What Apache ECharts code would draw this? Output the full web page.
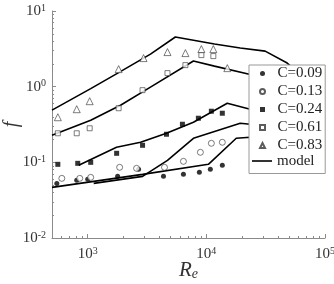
<!DOCTYPE html>
<html>
<head>
<meta charset="utf-8">
<script src="https://cdn.jsdelivr.net/npm/echarts@6/dist/echarts.min.js"></script>
<style>
html,body{margin:0;padding:0;background:#fff;}
#test{width:334px;height:284px;}
</style>
</head>
<body>
<div id="test"></div>
<script>
// measured points, Re on x, f on y
var re09 = [549, 808, 1000, 1787, 2683, 4352, 6408, 8730, 10800, 13630];
var f09 = [0.0527, 0.0578, 0.0596, 0.0653, 0.0808, 0.0653, 0.0694, 0.0737, 0.0808, 0.0912];
var re13 = [605, 857, 1060, 1858, 2581, 4436, 6408, 8904, 11020, 13630];
var f13 = [0.0614, 0.0614, 0.0633, 0.0859, 0.0833, 0.0859, 0.1031, 0.1357, 0.1785, 0.184];
var re24 = [560, 824, 1060, 1753, 2899, 4612, 6285, 8566, 11020, 13630];
var f24 = [0.0941, 0.097, 0.1, 0.1316, 0.168, 0.235, 0.3186, 0.3827, 0.4737, 0.4457];
var re61 = [560, 808, 1039, 1822, 2899, 4702, 6660, 9077, 11450];
var f61 = [0.2421, 0.2421, 0.282, 0.519, 0.899, 1.51, 1.927, 2.613, 2.535];
var re83 = [560, 808, 1039, 1822, 2955, 4702, 6660, 9077, 11450, 15020];
var f83 = [0.3945, 0.5035, 0.6427, 1.705, 2.385, 2.864, 2.778, 3.138, 3.138, 1.758];

// model curves
var mRe09 = [500, 2899, 10400, 17860, 23400, 60000];
var mF09 = [0.0467, 0.0694, 0.0941, 0.208, 0.2143, 0.2];
var mRe13 = [1123, 2899, 4702, 7780, 19300, 23400, 60000];
var mF13 = [0.0527, 0.0653, 0.1063, 0.208, 0.3286, 0.318, 0.28];
var mRe24 = [840, 1750, 2790, 4610, 7780, 15000, 23400, 60000];
var mF24 = [0.0913, 0.158, 0.184, 0.242, 0.339, 0.604, 0.503, 0.4];
var mRe61 = [500, 1060, 1890, 3380, 7780, 11700, 23000, 60000];
var mF61 = [0.228, 0.36, 0.569, 0.985, 2.18, 1.87, 1.46, 1.0];
var mRe83 = [500, 1060, 1822, 3380, 5480, 11700, 19300, 31300, 48000, 80000];
var mF83 = [0.489, 0.941, 1.532, 2.695, 4.53, 3.66, 3.24, 2.95, 2.05, 1.0];

var xMajor = [1000, 10000, 100000];
var xMinor = [600, 700, 800, 900, 2000, 3000, 4000, 5000, 6000, 7000, 8000, 9000,
  20000, 30000, 40000, 50000, 60000, 70000, 80000, 90000];
var yMajor = [0.01, 0.1, 1, 10];
var yMinor = [0.02, 0.03, 0.04, 0.05, 0.06, 0.07, 0.08, 0.09, 0.2, 0.3, 0.4, 0.5, 0.6, 0.7, 0.8, 0.9,
  2, 3, 4, 5, 6, 7, 8, 9];
var legendNames = ['C=0.09', 'C=0.13', 'C=0.24', 'C=0.61', 'C=0.83'];

function pairs(a, b) {
  var out = [];
  for (var i = 0; i < a.length; i++) out.push([a[i], b[i]]);
  return out;
}
function pow10(v) {
  var e = Math.round(Math.log(v) / Math.LN10);
  return '{b|10}{s|' + e + '}';
}

var serif = 'Liberation Serif';
var axisGray = '#8a8a8a';
var labelRich = {
  b: {fontFamily: serif, fontSize: 15, color: '#333', lineHeight: 16},
  s: {fontFamily: serif, fontSize: 10, color: '#333', lineHeight: 10, verticalAlign: 'top'}
};
var legendText = {fontFamily: serif, fontSize: 15, color: '#222', lineHeight: 14.5};

function model(re, f) {
  return {
    name: 'model', type: 'line', data: pairs(re, f), symbol: 'none',
    lineStyle: {color: '#000', width: 1.6}, itemStyle: {color: '#000'}, z: 3
  };
}

var chart = echarts.init(document.getElementById('test'));
chart.setOption({
  animation: false,
  grid: {left: 52, right: 9, top: 11, bottom: 46, containLabel: false, outerBoundsMode: 'none'},
  legend: [{
    orient: 'vertical', left: 249, top: 65,
    padding: [1, 3, 20.5, 10], itemGap: 3, itemWidth: 5, itemHeight: 5,
    backgroundColor: '#fff', borderColor: '#999', borderWidth: 1,
    textStyle: legendText,
    formatter: function (n) { return '  ' + n; },
    data: legendNames
  }, {
    orient: 'vertical', left: 252, top: 153.5, padding: 0, z: 5,
    itemWidth: 20, itemHeight: 1.6,
    textStyle: legendText,
    data: [{name: 'model', icon: 'rect'}]
  }],
  xAxis: [{
    type: 'log', min: 500, max: 100000,
    axisLine: {lineStyle: {color: axisGray}},
    axisTick: {inside: true, length: 4, customValues: xMajor, lineStyle: {color: axisGray}},
    axisLabel: {customValues: xMajor, formatter: pow10, margin: 8, rich: labelRich},
    splitLine: {show: false},
    name: '{r|R}{e|e}', nameLocation: 'middle', nameGap: 22, nameMoveOverlap: false,
    nameTextStyle: {
      rich: {
        r: {fontFamily: serif, fontStyle: 'italic', fontSize: 21, color: '#333'},
        e: {fontFamily: serif, fontStyle: 'italic', fontSize: 14, color: '#333', padding: [7, 0, 0, 0]}
      }
    }
  }, {
    type: 'log', min: 500, max: 100000, position: 'bottom',
    axisLine: {show: false},
    axisTick: {inside: true, length: 2, customValues: xMinor, lineStyle: {color: axisGray}},
    axisLabel: {show: false}, splitLine: {show: false}
  }],
  yAxis: [{
    type: 'log', min: 0.01, max: 10,
    axisLine: {show: true, lineStyle: {color: axisGray}},
    axisTick: {show: true, inside: true, length: 4, customValues: yMajor, lineStyle: {color: axisGray}},
    axisLabel: {customValues: yMajor, formatter: pow10, margin: 6, rich: labelRich},
    splitLine: {show: false},
    name: 'f', nameLocation: 'middle', nameGap: 30, nameMoveOverlap: false,
    nameTextStyle: {fontFamily: serif, fontStyle: 'italic', fontSize: 20, color: '#333'}
  }, {
    type: 'log', min: 0.01, max: 10, position: 'left',
    axisLine: {show: false},
    axisTick: {show: true, inside: true, length: 2, customValues: yMinor, lineStyle: {color: axisGray}},
    axisLabel: {show: false}, splitLine: {show: false}
  }],
  series: [
    {name: 'C=0.09', type: 'scatter', data: pairs(re09, f09), symbol: 'circle', symbolSize: 5,
      itemStyle: {color: '#000'}, z: 4},
    {name: 'C=0.13', type: 'scatter', data: pairs(re13, f13), symbol: 'circle', symbolSize: 6,
      itemStyle: {color: '#fff', borderColor: '#333', borderWidth: 0.8}, z: 4},
    {name: 'C=0.24', type: 'scatter', data: pairs(re24, f24), symbol: 'rect', symbolSize: 5,
      itemStyle: {color: '#000'}, z: 4},
    {name: 'C=0.61', type: 'scatter', data: pairs(re61, f61), symbol: 'rect', symbolSize: 5,
      itemStyle: {color: '#fff', borderColor: '#333', borderWidth: 0.8}, z: 4},
    {name: 'C=0.83', type: 'scatter', data: pairs(re83, f83), symbol: 'triangle', symbolSize: 7,
      itemStyle: {color: '#fff', borderColor: '#333', borderWidth: 0.8}, z: 4},
    model(mRe09, mF09),
    model(mRe13, mF13),
    model(mRe24, mF24),
    model(mRe61, mF61),
    model(mRe83, mF83)
  ]
});
</script>
</body>
</html>
